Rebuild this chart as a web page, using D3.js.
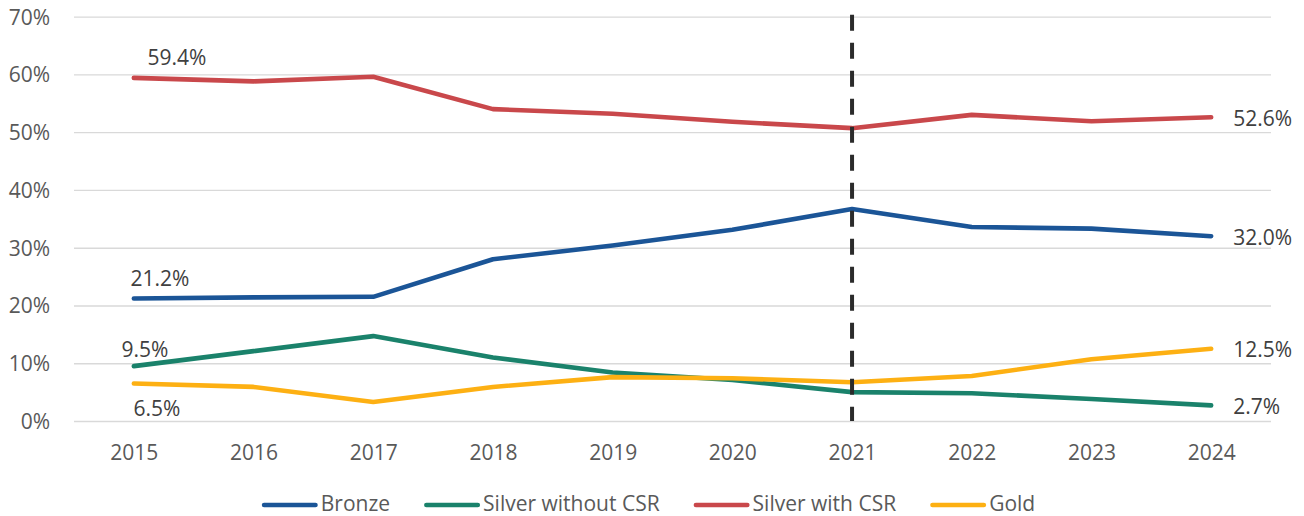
<!DOCTYPE html>
<html>
<head>
<meta charset="utf-8">
<script src="https://cdn.jsdelivr.net/npm/d3@7"></script>
<style>
  html, body { margin: 0; padding: 0; background: #fff; }
  svg { display: block; font-family: "Open Sans", sans-serif; }
</style>
</head>
<body>
<svg id="chart" width="1304" height="516"></svg>
<script>
// Share of certification levels by year
const years = ["2015","2016","2017","2018","2019","2020","2021","2022","2023","2024"];
const bronze        = [21.2, 21.4, 21.5, 28.0, 30.4, 33.1, 36.7, 33.6, 33.3, 32.0];
const silverNoCSR   = [9.5, 12.1, 14.7, 11.0, 8.4, 7.1, 5.0, 4.8, 3.8, 2.7];
const silverWithCSR = [59.4, 58.8, 59.6, 54.0, 53.2, 51.8, 50.7, 53.0, 51.9, 52.6];
const gold          = [6.5, 5.9, 3.3, 5.9, 7.6, 7.4, 6.7, 7.8, 10.7, 12.5];
const yTicks = [0, 10, 20, 30, 40, 50, 60, 70];
const markerYear = "2021";

const series = [
  { name: "Bronze",             values: bronze,        color: "#1b5597" },
  { name: "Silver without CSR", values: silverNoCSR,   color: "#1a826b" },
  { name: "Silver with CSR",    values: silverWithCSR, color: "#c9484b" },
  { name: "Gold",               values: gold,          color: "#fdb013" }
];

// first-point labels: offsets relative to the point
const startLabelOffsets = {
  "Bronze":             { dx: 26,  dy: -20 },
  "Silver without CSR": { dx: 11,  dy: -17 },
  "Silver with CSR":    { dx: 43,  dy: -20 },
  "Gold":               { dx: 23,  dy: 25.5 }
};

const svg = d3.select("#chart");
const plotLeft = 74, plotRight = 1271, plotTop = 16.7, plotBottom = 421;

const x = d3.scalePoint().domain(years).range([plotLeft, plotRight]).padding(0.5);
const y = d3.scaleLinear().domain([0, 70]).range([plotBottom, plotTop]);

const fs = 21;
const capHalf = fs * 0.714 / 2;

// gridlines + y tick labels
const yAxis = svg.append("g")
  .attr("transform", `translate(${plotLeft},0)`)
  .call(d3.axisLeft(y).tickValues(yTicks).tickSize(-(plotRight - plotLeft)).tickPadding(24)
        .tickFormat(d => d + "%"));
yAxis.select(".domain").remove();
yAxis.selectAll(".tick line").attr("stroke", "#d9d9d9").attr("stroke-width", 1.3);
yAxis.selectAll(".tick text")
  .attr("fill", "#595959").attr("font-size", fs).attr("font-family", "Open Sans")
  .attr("dy", null).attr("y", capHalf).attr("x", -24);

// x tick labels
const xAxis = svg.append("g")
  .attr("transform", `translate(0,${plotBottom})`)
  .call(d3.axisBottom(x).tickSize(0).tickPadding(0));
xAxis.select(".domain").remove();
xAxis.selectAll(".tick text")
  .attr("fill", "#595959").attr("font-size", fs).attr("font-family", "Open Sans")
  .attr("dy", null).attr("y", 39);

// series lines
const line = d3.line().x((d, i) => x(years[i])).y(d => y(d));
svg.append("g").selectAll("path")
  .data(series).join("path")
  .attr("d", d => line(d.values))
  .attr("fill", "none")
  .attr("stroke", d => d.color)
  .attr("stroke-width", 4.6)
  .attr("stroke-linecap", "round")
  .attr("stroke-linejoin", "round");

// data labels
const labels = svg.append("g")
  .attr("fill", "#404040").attr("font-size", fs).attr("font-family", "Open Sans");
series.forEach(s => {
  const v0 = s.values[0], o = startLabelOffsets[s.name];
  labels.append("text")
    .attr("x", x(years[0]) + o.dx).attr("y", y(v0) + o.dy + capHalf)
    .attr("text-anchor", "middle")
    .text(v0.toFixed(1) + "%");
  const n = s.values.length - 1, vN = s.values[n];
  labels.append("text")
    .attr("x", x(years[n]) + 22).attr("y", y(vN) + 1 + capHalf)
    .text(vN.toFixed(1) + "%");
});

// dashed marker at 2021
svg.append("line")
  .attr("x1", x(markerYear)).attr("x2", x(markerYear))
  .attr("y1", plotTop - 2).attr("y2", plotBottom)
  .attr("stroke", "#2b2b2b").attr("stroke-width", 4)
  .attr("stroke-dasharray", "16,12");

// legend
const legend = svg.append("g");
const legendY = 504;
const swatchW = 56, textGap = 3, itemGap = 34;
const items = series.map(s => {
  const g = legend.append("g");
  g.append("line")
    .attr("x1", 2.3).attr("x2", swatchW - 2.3)
    .attr("y1", legendY + 1).attr("y2", legendY + 1)
    .attr("stroke", s.color).attr("stroke-width", 4.6).attr("stroke-linecap", "round");
  const t = g.append("text")
    .attr("x", swatchW + textGap).attr("y", legendY + capHalf)
    .attr("fill", "#595959").attr("font-size", fs).attr("font-family", "Open Sans")
    .text(s.name);
  return { g, w: swatchW + textGap + t.node().getComputedTextLength() };
});
const total = d3.sum(items, d => d.w) + itemGap * (items.length - 1);
let cx = 648.5 - total / 2;
items.forEach(it => { it.g.attr("transform", `translate(${cx},0)`); cx += it.w + itemGap; });
</script>
</body>
</html>
